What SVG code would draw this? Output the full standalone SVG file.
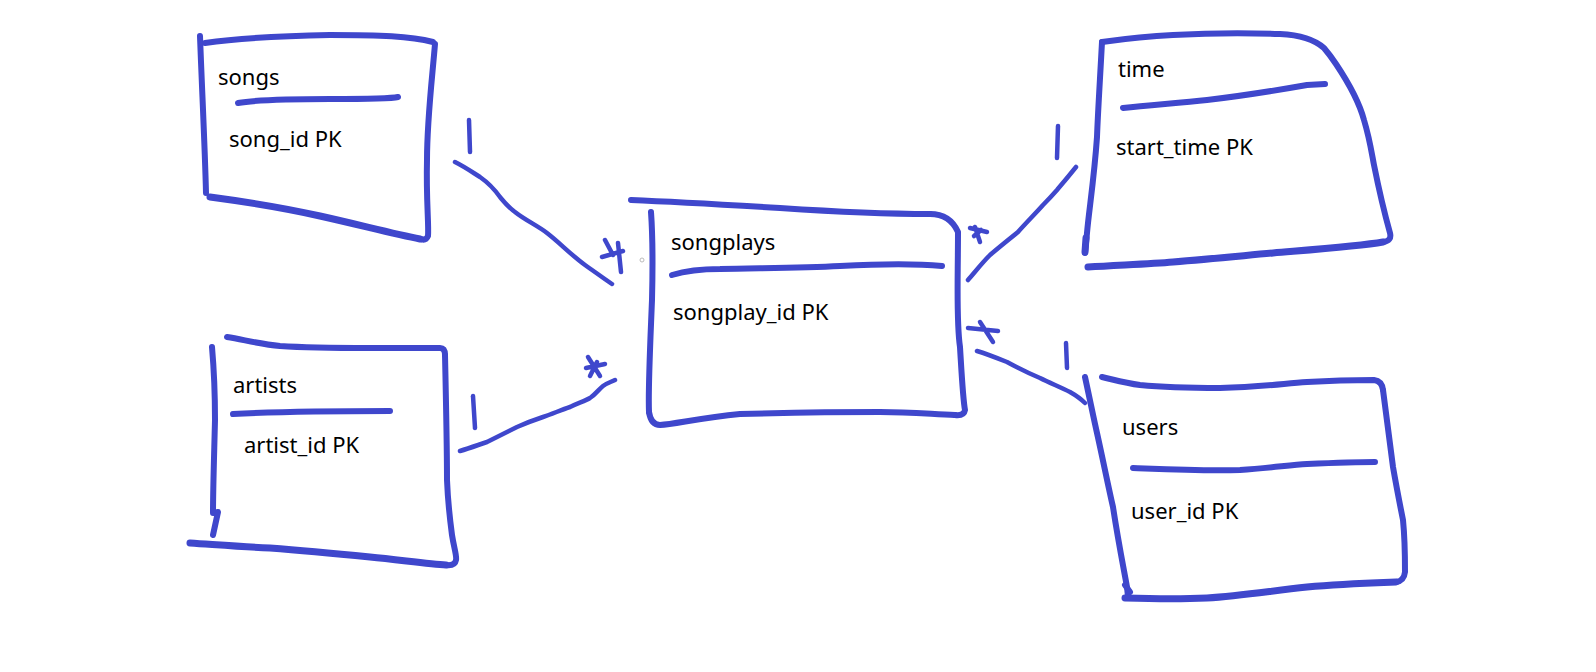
<svg xmlns="http://www.w3.org/2000/svg" width="1596" height="672" viewBox="0 0 1596 672">
<style>
.box{fill:none;stroke:#3f47cc;stroke-width:6;stroke-linecap:round;stroke-linejoin:round}
.ink{fill:none;stroke:#3f47cc;stroke-width:4.5;stroke-linecap:round;stroke-linejoin:round}
.t{font-family:"Noto Sans","Open Sans","Liberation Sans",sans-serif;font-size:22px;fill:#000}
</style>
<rect width="1596" height="672" fill="#fff"/>
<g id="songs">
<path class="box" d="M200,36 C202,90 205,150 206,193"/>
<path class="box" d="M205,43 C240,38 280,36 330,35 C380,35 410,36 433,42"/>
<path class="box" d="M435,44 C432,80 427,120 427,160 C426,200 429,225 428,236 Q426,241 420,239"/>
<path class="box" style="stroke-width:7" d="M210,197 C240,201 280,207 320,216 C360,225 395,234 420,239"/>
<path class="box" d="M238,103 C255,100 280,99 330,99 C370,99 390,99 398,97"/>
<text class="t" x="218" y="85">songs</text>
<text class="t" x="229" y="147">song_id PK</text>
</g>
<g id="songplays">
<path class="box" d="M631,200 C680,202 730,205 780,208 C840,212 890,214 930,214"/>
<path class="box" d="M930,214 Q950,214 958,232 C958,280 956,320 960,347 C962,380 963,400 965,410 Q964,416 955,415"/>
<path class="box" d="M955,415 C930,414 910,412 880,412 C830,412 780,413 740,414 C700,418 675,424 660,425 Q651,425 649,412"/>
<path class="box" d="M651,212 C653,240 653,260 652,300 C650,350 648,390 649,412"/>
<path class="box" d="M672,275 C685,271 700,269 720,269 C760,268 800,268 840,266 C880,264 920,264 942,266"/>
<circle cx="642" cy="260" r="2" fill="none" stroke="#bbb" stroke-width="1"/>
<text class="t" x="671" y="250">songplays</text>
<text class="t" x="673" y="320">songplay_id PK</text>
</g>
<g id="time">
<path class="box" d="M1102,42 C1100,80 1098,110 1097,137 C1094,180 1089,210 1087,233 L1085,253"/>
<path class="box" style="stroke-width:7" d="M1086,238 L1085,252"/>
<path class="box" d="M1102,42 C1130,38 1150,36 1173,35 C1210,33 1250,33 1280,34 C1300,35 1315,40 1324,48 Q1330,55 1336,64 C1350,85 1360,105 1364,120 C1370,140 1372,155 1374,165 C1380,195 1385,215 1390,233 Q1392,241 1383,242"/>
<path class="box" style="stroke-width:7" d="M1088,267 C1120,265 1150,264 1173,262 C1210,259 1240,256 1273,253 C1320,249 1360,246 1383,242"/>
<path class="box" d="M1123,108 C1150,105 1180,103 1207,100 C1250,95 1290,88 1307,85 L1325,84"/>
<text class="t" x="1118" y="77">time</text>
<text class="t" x="1116" y="155">start_time PK</text>
</g>
<g id="artists">
<path class="box" d="M212,347 C214,370 215,387 215,420 C214,460 213,490 213,513 L218,512 L213,535"/>
<path class="box" d="M227,337 C245,340 260,344 280,346 C310,348 340,348 370,348 C400,348 425,348 440,348 Q445,348 445,355"/>
<path class="box" d="M445,355 C446,400 447,453 447,480 C448,505 450,520 452,535 C454,548 457,556 456,560 Q455,566 446,565"/>
<path class="box" style="stroke-width:7" d="M190,543 C220,545 245,547 270,548 C310,551 340,554 370,557 C400,560 430,564 446,565"/>
<path class="box" d="M233,414 C270,412 330,411 390,411"/>
<text class="t" x="233" y="393">artists</text>
<text class="t" x="244" y="453">artist_id PK</text>
</g>
<g id="users">
<path class="box" d="M1085,377 C1090,400 1094,420 1097,433 C1103,460 1108,485 1113,507 C1118,540 1123,565 1127,587 L1128,597"/>
<path class="box" d="M1125,585 L1130,592"/>
<path class="box" d="M1102,377 C1115,380 1125,383 1140,385 C1170,388 1190,388 1220,388 C1260,387 1280,384 1307,382 C1340,380 1360,380 1374,380 Q1382,381 1383,390"/>
<path class="box" d="M1383,390 C1387,420 1390,445 1393,467 C1397,490 1400,505 1403,520 C1405,540 1405,555 1405,572 Q1404,581 1396,582"/>
<path class="box" style="stroke-width:7" d="M1125,598 C1160,599 1185,599 1207,598 C1240,596 1270,591 1307,587 C1340,584 1370,583 1396,582"/>
<path class="box" d="M1133,468 C1160,469 1200,471 1240,470 C1270,468 1290,465 1307,464 C1330,463 1355,462 1375,462"/>
<text class="t" x="1122" y="435">users</text>
<text class="t" x="1131" y="519">user_id PK</text>
</g>
<g id="connectors">
<path class="ink" d="M455,162 C465,167 472,172 480,177 C490,184 495,190 500,197 C505,203 508,207 515,212 C525,220 538,226 547,233 C560,243 570,254 585,265 C595,272 603,278 612,284"/>
<path class="ink" d="M469,120 L470,152"/>
<path class="ink" d="M618,243 C619,253 620,263 621,272 M602,257 L623,251 M605,240 L613,255"/>
<path class="ink" d="M1076,167 C1068,177 1062,184 1057,190 C1050,198 1046,202 1043,205 C1035,214 1025,224 1018,232 C1008,240 998,248 990,255 C982,263 975,272 968,280"/>
<path class="ink" d="M1058,126 L1057,158"/>
<path class="ink" d="M970,228 L987,232 M975,227 L980,242 M974,236 L981,230"/>
<path class="ink" d="M460,451 C470,448 478,445 487,442 C497,437 507,432 517,427 C526,423 534,420 543,417 C552,414 561,410 570,407 C578,403 585,401 590,398 C596,394 599,389 603,386 C607,383 611,382 615,380"/>
<path class="ink" d="M473,396 L475,428"/>
<path class="ink" d="M588,357 L600,376 M586,368 L605,364 M590,376 L597,362"/>
<path class="ink" d="M977,351 C987,354 997,358 1007,362 C1018,368 1028,373 1040,378 C1050,383 1060,387 1070,392 C1077,396 1082,400 1085,403"/>
<path class="ink" d="M1066,343 L1067,368"/>
<path class="ink" d="M968,328 L998,331 M980,322 L993,342"/>
</g>
</svg>
